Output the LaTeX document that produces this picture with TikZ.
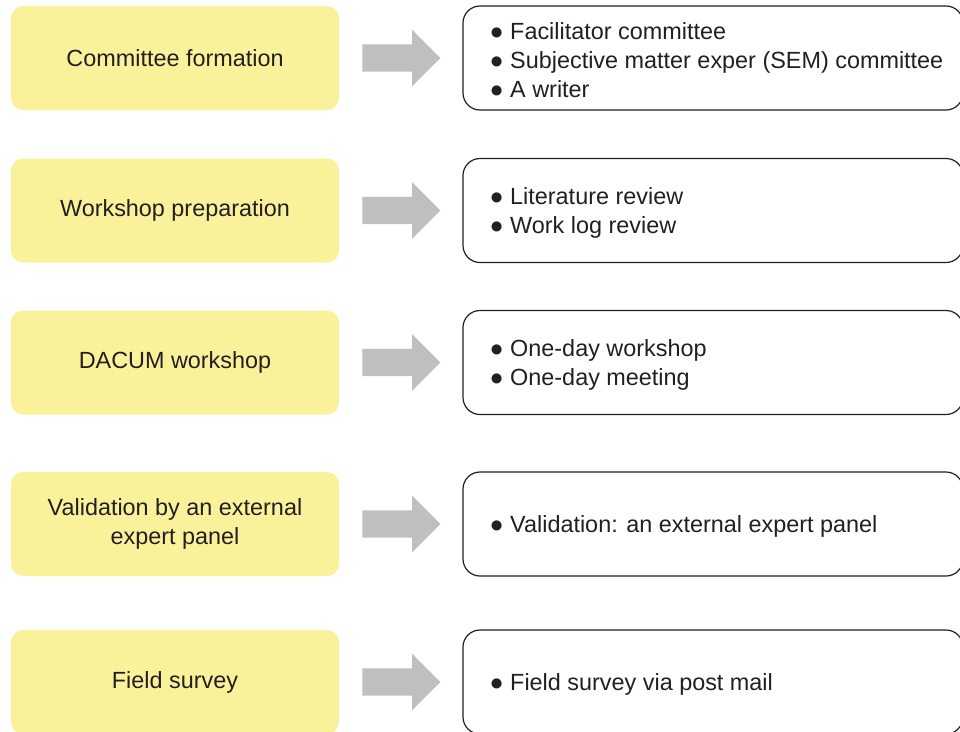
\documentclass[tikz,border=0pt]{standalone}
\usepackage{fontspec}
\setmainfont{Liberation Sans}
\usetikzlibrary{shapes.arrows,positioning}
\definecolor{stepyellow}{HTML}{FAF29B}
\definecolor{arrowgray}{HTML}{BFBFBF}
\definecolor{inkgray}{HTML}{231F20}
\tikzset{stepbox/.style={fill=stepyellow,
                         rounded corners=12pt,
                         minimum width=328pt,
                         minimum height=104pt,
                         align=center,
                         text=inkgray,
                         font=\fontsize{23.4}{29}\selectfont},
         infobox/.style={draw=inkgray,
                         line width=1.2pt,
                         rounded corners=17pt,
                         minimum width=500pt,
                         minimum height=104pt},
         items/.style={inner sep=0pt,
                       align=left,
                       yshift=-2pt,
                       text=inkgray,
                       font=\fontsize{23.4}{29}\selectfont},
         flowarrow/.style={single arrow,
                           fill=arrowgray,
                           single arrow head extend=14.5pt,
                           inner xsep=0pt,
                           inner ysep=13.5pt,
                           minimum height=78pt}}

\begin{document}
\begin{tikzpicture}[x=1pt,y=-1pt]
    \clip (0,0) rectangle (960,731);
    % We start by placing the steps on the left
    \node [stepbox] (formation) at (175,58) {Committee formation};
    \node [stepbox] (preparation) at (175,210.5) {Workshop preparation};
    \node [stepbox] (workshop) at (175,362.5) {DACUM workshop};
    \node [stepbox] (validation) at (175,524) {Validation by an external\\expert panel};
    \node [stepbox] (survey) at (175,682) {Field survey};
    % Boxes on the right hold the details of each step
    \node [infobox] (formationInfo) at (713,58) {};
    \node [infobox] (preparationInfo) at (713,210.5) {};
    \node [infobox] (workshopInfo) at (713,362.5) {};
    \node [infobox] (validationInfo) at (713,524) {};
    \node [infobox] (surveyInfo) at (713,682) {};
    \node [items, right=27pt of formationInfo.west] {● Facilitator committee\\
        ● Subjective matter exper (SEM) committee\\● A writer};
    \node [items, right=27pt of preparationInfo.west] {● Literature review\\● Work log review};
    \node [items, right=27pt of workshopInfo.west] {● One-day workshop\\● One-day meeting};
    \node [items, right=27pt of validationInfo.west] {● Validation: an external expert panel};
    \node [items, right=27pt of surveyInfo.west] {● Field survey via post mail};
    % Fat arrows between each step and its details
    \foreach \s in {formation,preparation,workshop,validation,survey}
        \node [flowarrow, right=23pt of \s] (\s Arrow) {};
\end{tikzpicture}
\end{document}
